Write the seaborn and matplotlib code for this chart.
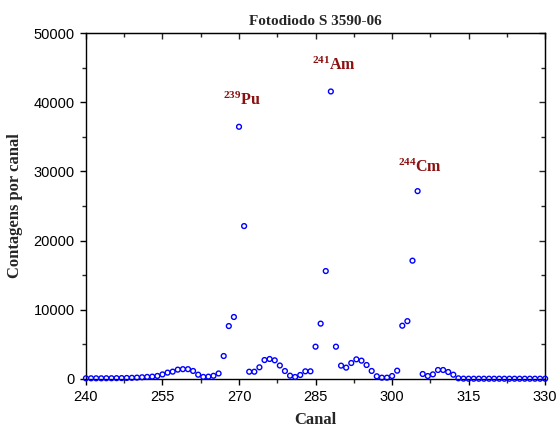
"""
Espectro alfa medido com o fotodiodo S 3590-06 (Pu-239, Am-241, Cm-244).
"""

import numpy as np
import pandas as pd
import matplotlib
matplotlib.use("Agg")
import matplotlib.pyplot as plt
import seaborn as sns

# ---- Data ----------------------------------------------------------------

canal = list(range(240, 331))
contagens = [
    100, 100, 100, 100, 110, 110, 120, 130, 150, 170,       # 240-249
    200, 250, 300, 340, 440, 660, 920, 1060, 1350, 1420,    # 250-259
    1420, 1160, 620, 300, 340, 460, 800, 3320, 7650, 8960,  # 260-269
    36450, 22100, 1050, 1050, 1690, 2740, 2890, 2700, 1950, 1150,  # 270-279
    480, 290, 580, 1110, 1110, 4670, 8000, 15600, 41550, 4670,     # 280-289
    1930, 1640, 2310, 2840, 2650, 2020, 1160, 390, 190, 190,       # 290-299
    430, 1200, 7700, 8360, 17100, 27150, 720, 430, 670, 1300,      # 300-309
    1300, 1010, 620, 100, 50, 40, 40, 40, 40, 40,                  # 310-319
    40, 40, 40, 40, 40, 40, 40, 40, 40, 40, 40,                    # 320-330
]

picos = ["$^{239}$Pu", "$^{241}$Am", "$^{244}$Cm"]
picos_x = [266.8, 284.4, 301.2]
picos_y = [39600, 44650, 29960]

df = pd.DataFrame({"Canal": canal, "Contagens": contagens})

# ---- Style ----------------------------------------------------------------

sns.set_style("ticks")
plt.rcParams["font.family"] = ["Liberation Sans", "DejaVu Sans"]
plt.rcParams["mathtext.fontset"] = "custom"
plt.rcParams["mathtext.rm"] = "Liberation Serif:bold"
plt.rcParams["mathtext.it"] = "Liberation Serif:bold"
plt.rcParams["mathtext.bf"] = "Liberation Serif:bold"

serif = {"family": "Liberation Serif", "weight": "bold"}

fig = plt.figure(figsize=(5.58, 4.32), dpi=100)
ax = fig.add_axes([0.154, 0.1227, 0.823, 0.8009])

sns.scatterplot(
    data=df, x="Canal", y="Contagens", ax=ax,
    marker="o", s=12, facecolors="none", edgecolor="blue",
    linewidth=1, clip_on=False, zorder=3,
)

for lab, px, py in zip(picos, picos_x, picos_y):
    ax.text(px, py, lab, color="#8b1010", fontsize=11.5,
            ha="left", va="baseline", **serif)

ax.set_xlim(240, 330)
ax.set_ylim(0, 50000)
ax.set_xticks(np.arange(240, 331, 15))
ax.set_xticks(np.arange(247.5, 330, 15), minor=True)
ax.set_yticks(np.arange(0, 50001, 10000))
ax.set_yticks(np.arange(5000, 50000, 10000), minor=True)

ax.tick_params(which="major", direction="out", length=4.5, width=1,
               labelsize=10.5, colors="black")
ax.tick_params(which="minor", direction="out", length=3, width=1)

# inward ticks on top and right, no labels
top = ax.secondary_xaxis("top")
top.set_xticks(np.arange(240, 331, 15))
top.set_xticks(np.arange(247.5, 330, 15), minor=True)
top.tick_params(which="major", direction="in", length=4.5, width=1, labeltop=False)
top.tick_params(which="minor", direction="in", length=3, width=1)
right = ax.secondary_yaxis("right")
right.set_yticks(np.arange(0, 50001, 10000))
right.set_yticks(np.arange(5000, 50000, 10000), minor=True)
right.tick_params(which="major", direction="in", length=4.5, width=1, labelright=False)
right.tick_params(which="minor", direction="in", length=3, width=1)

for sp in ax.spines.values():
    sp.set_visible(True)
    sp.set_linewidth(1)
    sp.set_color("black")

ax.set_title("Fotodiodo S 3590-06", fontsize=11, pad=6, **serif)
ax.set_xlabel("Canal", fontsize=12, labelpad=6, **serif)
ax.set_ylabel("Contagens por canal", fontsize=12, labelpad=8, **serif)

fig.savefig("out.png", dpi=100)
